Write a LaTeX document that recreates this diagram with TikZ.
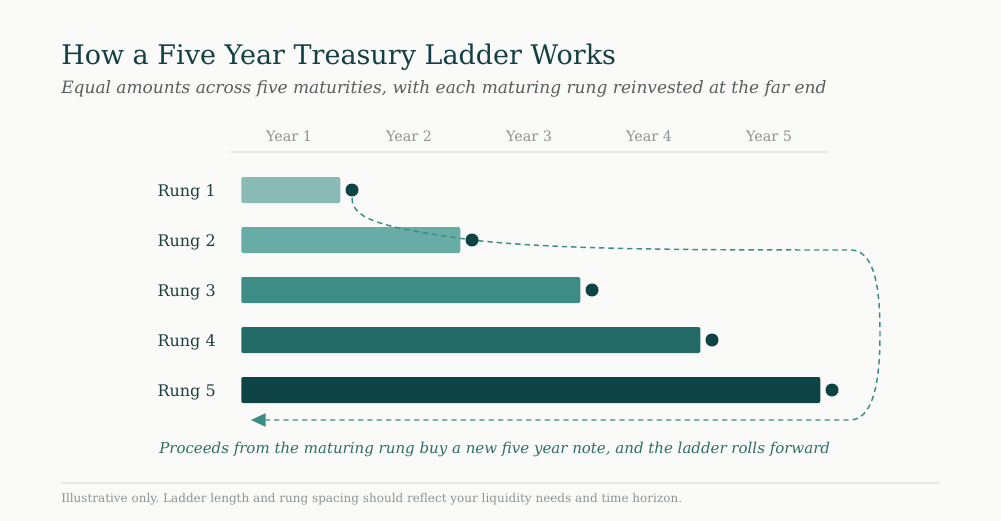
\documentclass[tikz,border=0pt]{standalone}
\usepackage{fontspec}
\setmainfont{DejaVu Serif}
\usepackage{xcolor}
\usepackage{tikz}
\usetikzlibrary{arrows.meta}
\frenchspacing

\definecolor{bgcol}{HTML}{FAFAF9}
\definecolor{titlecol}{HTML}{143F43}
\definecolor{subcol}{HTML}{555F5C}
\definecolor{greycol}{HTML}{8C9592}
\definecolor{rulecol}{HTML}{E6E8E6}
\definecolor{labelcol}{HTML}{1F3E40}
\definecolor{rungA}{HTML}{88BBB5}
\definecolor{rungB}{HTML}{67ADA6}
\definecolor{rungC}{HTML}{3E8C86}
\definecolor{rungD}{HTML}{246B67}
\definecolor{rungE}{HTML}{0F4446}
\definecolor{dotcol}{HTML}{0E4446}
\definecolor{flowcol}{HTML}{3E8C86}
\definecolor{notecol}{HTML}{2E6E69}

\begin{document}
\begin{tikzpicture}[x=0.75pt,y=0.75pt,yscale=-1,xscale=1,
    bar/.style={rounded corners=1.5pt, minimum height=19.5pt, inner sep=0pt, anchor=west},
    rungdot/.style={circle, fill=dotcol, inner sep=0pt, minimum size=9.75pt},
    yearlbl/.style={text=greycol, font=\fontsize{10.75pt}{12pt}\selectfont, anchor=base, inner sep=0pt},
    runglbl/.style={text=labelcol, font=\fontsize{12pt}{14pt}\selectfont, anchor=base east, inner sep=0pt},
    flow/.style={draw=flowcol, line width=1.1pt, dash pattern=on 4pt off 3pt}]
        % background and page frame
        \fill[bgcol] (0,0) rectangle (1001,521);

        \node[anchor=base west, inner sep=0pt, text=titlecol, font=\fontsize{20.25pt}{24pt}\selectfont] (title) at (61,64) {How a Five Year Treasury Ladder Works};
        \node[anchor=base west, inner sep=0pt, text=subcol, font=\fontsize{12.75pt}{15pt}\selectfont\itshape] (subtitle) at (61,93) {Equal amounts across five maturities, with each maturing rung reinvested at the far end};

        % year axis
        \foreach \i in {1,...,5}
            \node[yearlbl] (year\i) at ({169+120*\i},141) {Year \i};
        \draw[rulecol, line width=1.5pt] (231,152) -- (829,152);

        % rungs
        \foreach \i/\c in {1/rungA,2/rungB,3/rungC,4/rungD,5/rungE} {
            \node[bar, fill=\c, minimum width={(120*\i-21)*0.75pt}] (bar\i) at (241,{140+50*\i}) {};
            \node[runglbl] (rung\i) at (216,{146+50*\i}) {Rung \i};
        }

        % reinvestment loop
        \coordinate (ret) at (251,420);
        \coordinate (d2) at (472,240);
        \draw[flow, -{Triangle[length=11pt,width=10pt,fill=flowcol]}] (352,198) .. controls (352,220) and (385,228) .. (d2) .. controls (560,250) and (700,250) .. (852,250) .. controls (878,252) and (880,300) .. (880,335) .. controls (880,385) and (872,420) .. (850,420) -- (ret);

        \foreach \i in {1,...,5}
            \node[rungdot] (dot\i) at ({232+120*\i},{140+50*\i}) {};

        \node[anchor=base west, inner sep=0pt, text=notecol, font=\fontsize{11.25pt}{13pt}\selectfont\itshape] (note) at (159,453) {Proceeds from the maturing rung buy a new five year note, and the ladder rolls forward};

        % footer
        \draw[rulecol, line width=1.5pt] (61,483) -- (940,483);
        \node[anchor=base west, inner sep=0pt, text=greycol, font=\fontsize{9pt}{11pt}\selectfont] (footer) at (61,502) {Illustrative only. Ladder length and rung spacing should reflect your liquidity needs and time horizon.};
\end{tikzpicture}
\end{document}
